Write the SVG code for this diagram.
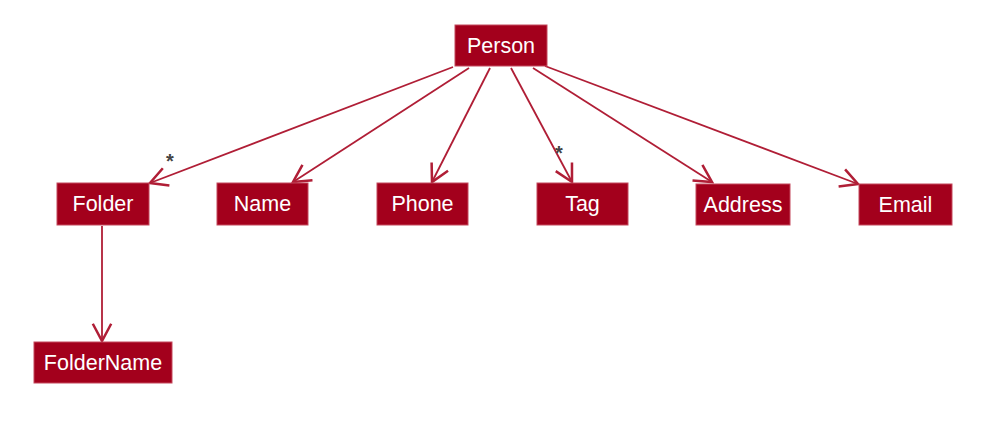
<svg xmlns="http://www.w3.org/2000/svg" width="990" height="426" viewBox="0 0 990 426">
<style>
.box{fill:#A3001C;stroke:#C4485C;stroke-width:1}
.lbl{fill:#ffffff;font-family:"Liberation Sans",Arial,sans-serif;font-size:21.5px;text-anchor:middle;dominant-baseline:central}
.edge{stroke:#B01E36;stroke-width:1.8;fill:none}
.mult{fill:#444;font-family:"Liberation Sans",Arial,sans-serif;font-size:20px;font-weight:bold}
</style>
<defs>
<marker id="arr" viewBox="0 0 20 20" refX="18" refY="10" markerWidth="23" markerHeight="23" markerUnits="userSpaceOnUse" orient="auto">
<path d="M3,2 L18,10 L3,18" fill="none" stroke="#B01E36" stroke-width="2.2" stroke-linejoin="miter"/>
</marker>
</defs>
<rect width="990" height="426" fill="#ffffff"/>
<g id="connectors">
<line class="edge" x1="453" y1="67" x2="150" y2="183" marker-end="url(#arr)"/>
<line class="edge" x1="469" y1="68" x2="293" y2="182" marker-end="url(#arr)"/>
<line class="edge" x1="490" y1="68" x2="432" y2="182" marker-end="url(#arr)"/>
<line class="edge" x1="511" y1="68" x2="572" y2="182" marker-end="url(#arr)"/>
<line class="edge" x1="533" y1="68" x2="712" y2="182" marker-end="url(#arr)"/>
<line class="edge" x1="545" y1="66" x2="858" y2="184" marker-end="url(#arr)"/>
<line class="edge" x1="102" y1="226" x2="102" y2="341" marker-end="url(#arr)"/>
<text class="mult" x="166" y="168">*</text>
<text class="mult" x="555" y="160">*</text>
</g>
<g id="Person"><rect class="box" x="455" y="25" width="92" height="41"/><text class="lbl" x="501" y="46">Person</text></g>
<g id="Folder"><rect class="box" x="57" y="183" width="92" height="42"/><text class="lbl" x="103" y="204">Folder</text></g>
<g id="Name"><rect class="box" x="217" y="183" width="91" height="42"/><text class="lbl" x="262.5" y="204">Name</text></g>
<g id="Phone"><rect class="box" x="377" y="183" width="91" height="42"/><text class="lbl" x="422.5" y="204">Phone</text></g>
<g id="Tag"><rect class="box" x="537" y="183" width="91" height="42"/><text class="lbl" x="582.5" y="204">Tag</text></g>
<g id="Address"><rect class="box" x="696" y="184" width="94" height="41"/><text class="lbl" x="743" y="204.5">Address</text></g>
<g id="Email"><rect class="box" x="859" y="184" width="93" height="41"/><text class="lbl" x="905.5" y="204.5">Email</text></g>
<g id="FolderName"><rect class="box" x="34" y="342" width="138" height="41"/><text class="lbl" x="103" y="362.5">FolderName</text></g>
</svg>
